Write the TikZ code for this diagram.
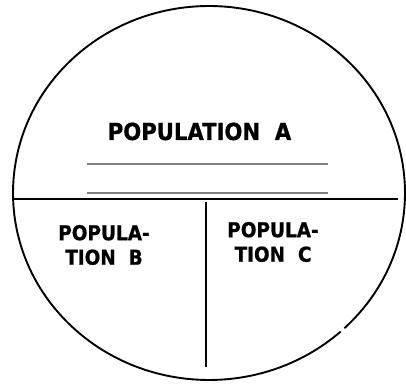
\documentclass[tikz,border=0pt]{standalone}
\usepackage{fontspec}
\newfontfamily\labelfont[FakeStretch=0.9,FakeBold=0.8]{DejaVu Sans Bold}
\begin{document}
\begin{tikzpicture}[x=1pt,y=1pt,
  outline/.style={draw=black,line width=1.9pt},
  divider/.style={draw=black,line width=1.9pt},
  guide/.style={draw=black!50,line width=1.5pt},
  bigtxt/.style={font=\labelfont\fontsize{23.5}{24}\selectfont,inner sep=0pt,anchor=base},
  smalltxt/.style={font=\labelfont\fontsize{20.5}{24.5}\selectfont,inner sep=0pt,align=center}]
\useasboundingbox (0,0) rectangle (406,383);
% outer ellipse with a tiny break at lower right
\draw[outline,shift={(209,190)}] (-46.3:196 and 187) arc[start angle=-46.3, end angle=312.2, x radius=196, y radius=187];
% dividers
\coordinate (hl) at (13,184);
\coordinate (hr) at (398,184);
\coordinate (vt) at (206,181);
\coordinate (vb) at (206,16);
\draw[divider] (hl) -- (hr);
\draw[divider] (vt) -- (vb);
% guide lines
\coordinate (g1l) at (87,219);
\coordinate (g1r) at (328,219);
\coordinate (g2l) at (87,190);
\coordinate (g2r) at (328,190);
\draw[guide] (g1l) -- (g1r);
\draw[guide] (g2l) -- (g2r);
% labels
\node[bigtxt] (popa) at (199.5,243) {POPULATION\ \ A};
\node[smalltxt] (popb) at (104,138) {POPULA-\\TION\ \ B};
\node[smalltxt] (popc) at (273,141) {POPULA-\\TION\ \ C};
\end{tikzpicture}
\end{document}
